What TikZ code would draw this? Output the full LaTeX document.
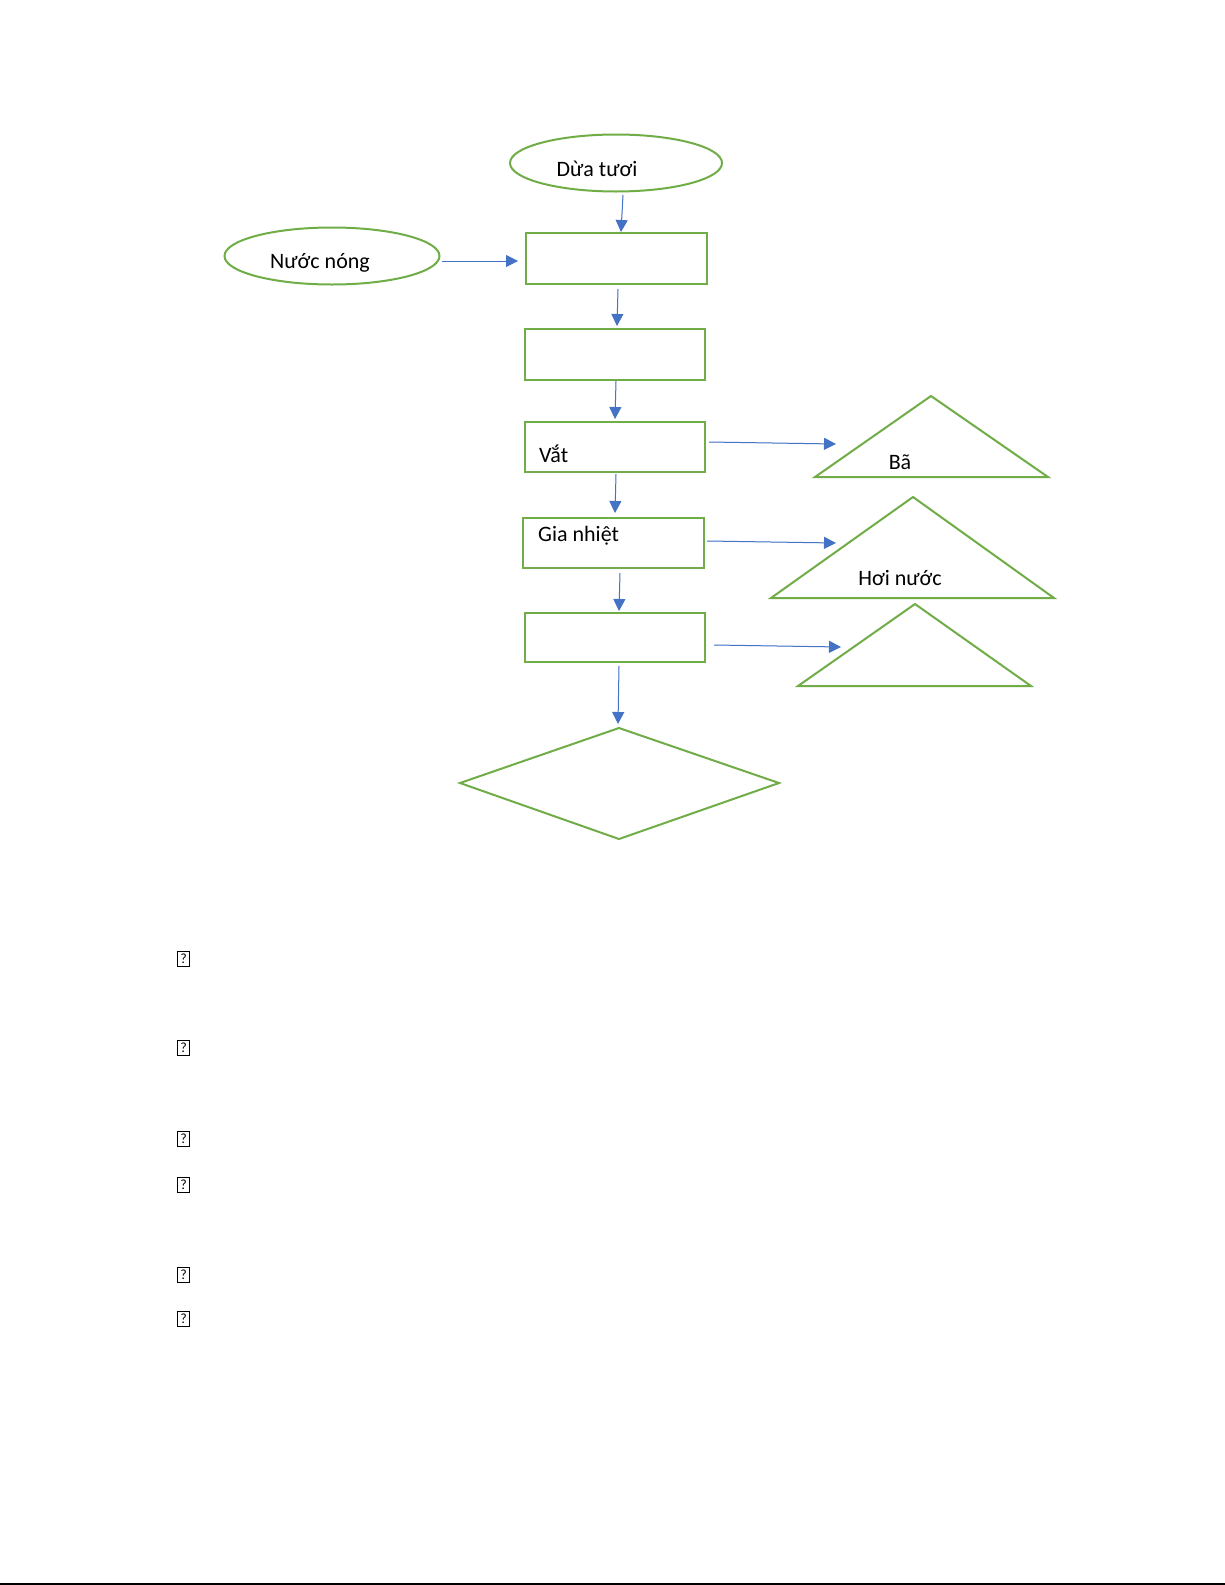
\documentclass[tikz,border=0pt]{standalone}
\usepackage{fontspec}
\setmainfont{Carlito}
\usetikzlibrary{arrows.meta,shapes.geometric}
\definecolor{grn}{HTML}{70AD47}
\definecolor{blu}{HTML}{4472C4}
\begin{document}
\begin{tikzpicture}[x=1pt,y=-1pt,
  ell/.style={draw=grn,line width=2pt,ellipse,inner sep=0pt},
  box/.style={draw=grn,line width=2pt,rectangle,inner sep=0pt},
  lbl/.style={font=\fontsize{22}{26}\selectfont,inner sep=0pt},
  arr/.style={draw=blu,line width=1pt,-{Triangle[length=12pt,width=12pt]},fill=blu},
  qbox/.style={draw=black,line width=1pt,rectangle,inner sep=0pt,minimum width=12pt,minimum height=15pt,font=\fontsize{14}{15}\selectfont}]
\useasboundingbox (0,0) rectangle (1225,1585);
\fill[white] (0,0) rectangle (1225,1585);
% ellipses
\node[ell,minimum width=212pt,minimum height=57pt] (dua) at (616,163) {};
\node[lbl] (dual) at (597,169) {Dừa tươi};
\node[ell,minimum width=215pt,minimum height=57pt] (nuoc) at (332,256) {};
\node[lbl] (nuocl) at (320,263) {Nước nóng};
% boxes
\node[box,minimum width=181pt,minimum height=51pt] (b1) at (616.5,258.5) {};
\node[box,minimum width=180pt,minimum height=51pt] (b2) at (615,354.5) {};
\node[box,minimum width=180pt,minimum height=50pt] (b3) at (615,447) {};
\node[lbl,anchor=west] (b3l) at (539,454) {Vắt};
\node[box,minimum width=181pt,minimum height=50pt] (b4) at (613.5,543) {};
\node[lbl,anchor=west] (b4l) at (538,536) {Gia nhiệt};
\node[box,minimum width=180pt,minimum height=49pt] (b5) at (615,637.5) {};
% diamond
\draw[draw=grn,line width=2pt] (619,728) coordinate (dtop) -- (779,783) -- (619,839) -- (460,783) -- cycle;
% triangles
\draw[draw=grn,line width=2pt] (931,396) coordinate (t1) -- (1048,477) -- (815,477) -- cycle;
\node[lbl] (t1l) at (900,462) {Bã};
\draw[draw=grn,line width=2pt] (913,497) coordinate (t2) -- (1054,598) -- (771,598) -- cycle;
\node[lbl] (t2l) at (900,578) {Hơi nước};
\draw[draw=grn,line width=2pt] (915,604) coordinate (t3) -- (1031,686) -- (798,686) -- cycle;
% arrow endpoints
\coordinate (a1s) at (442,261); \coordinate (a1e) at (518,261);
\coordinate (a2s) at (623,195); \coordinate (a2e) at (621,232);
\coordinate (a3s) at (618,289); \coordinate (a3e) at (617,326);
\coordinate (a4s) at (616,381); \coordinate (a4e) at (615,419);
\coordinate (a5s) at (616,474); \coordinate (a5e) at (615,513);
\coordinate (a6s) at (620,573); \coordinate (a6e) at (619,611);
\coordinate (a7s) at (619,666); \coordinate (a7e) at (618,724);
\coordinate (a8s) at (709,442); \coordinate (a8e) at (836,444);
\coordinate (a9s) at (707,541); \coordinate (a9e) at (836,543);
\coordinate (a10s) at (714,645); \coordinate (a10e) at (841,647);
\foreach \i in {1,...,10} {\draw[arr] (a\i s) -- (a\i e);}
% missing glyph boxes
\node[qbox] (q1) at (183.5,959) {?};
\node[qbox] (q2) at (183.5,1048) {?};
\node[qbox] (q3) at (183.5,1139) {?};
\node[qbox] (q4) at (183.5,1185) {?};
\node[qbox] (q5) at (183.5,1275) {?};
\node[qbox] (q6) at (183.5,1319) {?};
% bottom rule
\draw[black,line width=2pt] (0,1584) coordinate (r0) -- (1225,1584) coordinate (r1);
\end{tikzpicture}
\end{document}
